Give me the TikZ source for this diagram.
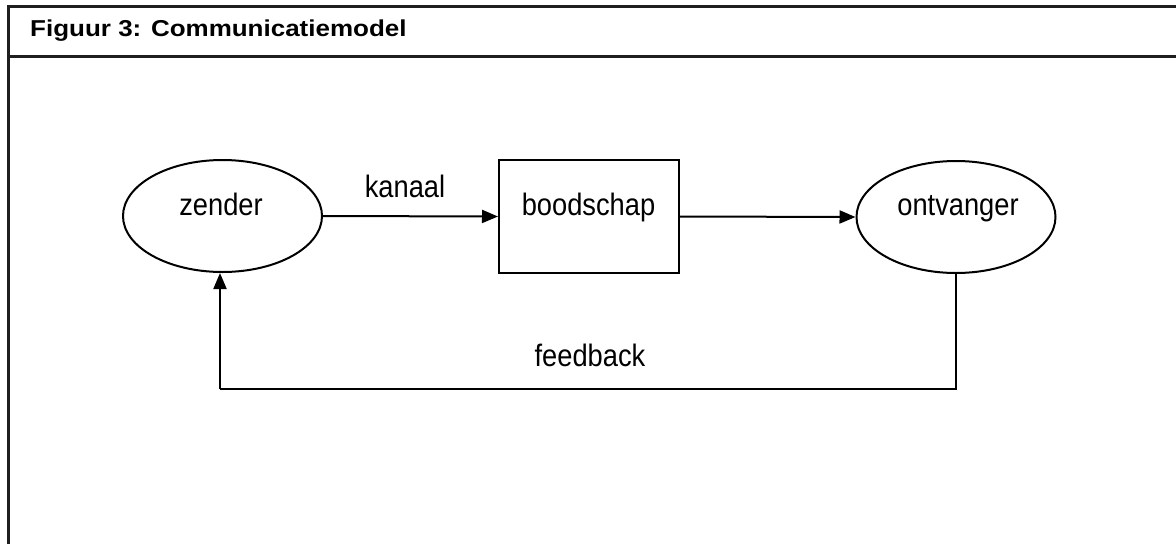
\documentclass[tikz,border=0pt]{standalone}
\usepackage{fontspec}
\setmainfont{Liberation Sans}
\usetikzlibrary{shapes.geometric,arrows.meta}
\tikzset{
  frameline/.style={line width=3pt, draw=black!88},
  shapeline/.style={line width=2pt, draw=black},
  ellnode/.style={ellipse, shapeline, minimum width=199pt, minimum height=112pt, inner sep=0pt},
  boxnode/.style={rectangle, shapeline, minimum width=180pt, minimum height=113pt, inner sep=0pt},
  txt/.style={anchor=base, inner sep=0pt, font=\fontsize{31}{36}\selectfont},
  conn/.style={line width=2pt, draw=black, -{Triangle[length=16pt,width=13pt]}},
  plain/.style={line width=2pt, draw=black}
}
\newcommand{\bodytext}[1]{\scalebox{0.88}[1]{#1}}
\begin{document}
\begin{tikzpicture}[x=1pt,y=-1pt]
\useasboundingbox (0,0) rectangle (1176,544);
% frame
\draw[frameline] (1176,6.5) -- (8,6.5) -- (8,544);
\draw[frameline] (8,56) -- (1176,56);
\node[anchor=base west, inner sep=0pt, font=\fontsize{23}{27}\selectfont\bfseries] (title) at (30,36) {\scalebox{1.13}[1]{Figuur 3: Communicatiemodel}};
% shapes
\node[ellnode] (zender) at (222.5,216) {};
\node[boxnode] (bood) at (589,216.5) {};
\node[ellnode] (ontv) at (956,217) {};
\node[txt] (tzender) at (221,215) {\bodytext{zender}};
\node[txt] (tbood) at (588.5,215) {\bodytext{boodschap}};
\node[txt] (tontv) at (958,215) {\bodytext{ontvanger}};
\node[txt] (tkanaal) at (405,197) {\bodytext{kanaal}};
\node[txt] (tfeed) at (590,366) {\bodytext{feedback}};
% connectors
\draw[conn] (zender.east) -- (bood.west);
\draw[conn] (bood.east) -- (ontv.west);
\coordinate (fbr) at (956,389);
\coordinate (fbl) at (220,389);
\draw[plain] (ontv.south) -- (fbr) -- (fbl);
\draw[conn] (fbl) -- (fbl |- zender.south);
\end{tikzpicture}
\end{document}
